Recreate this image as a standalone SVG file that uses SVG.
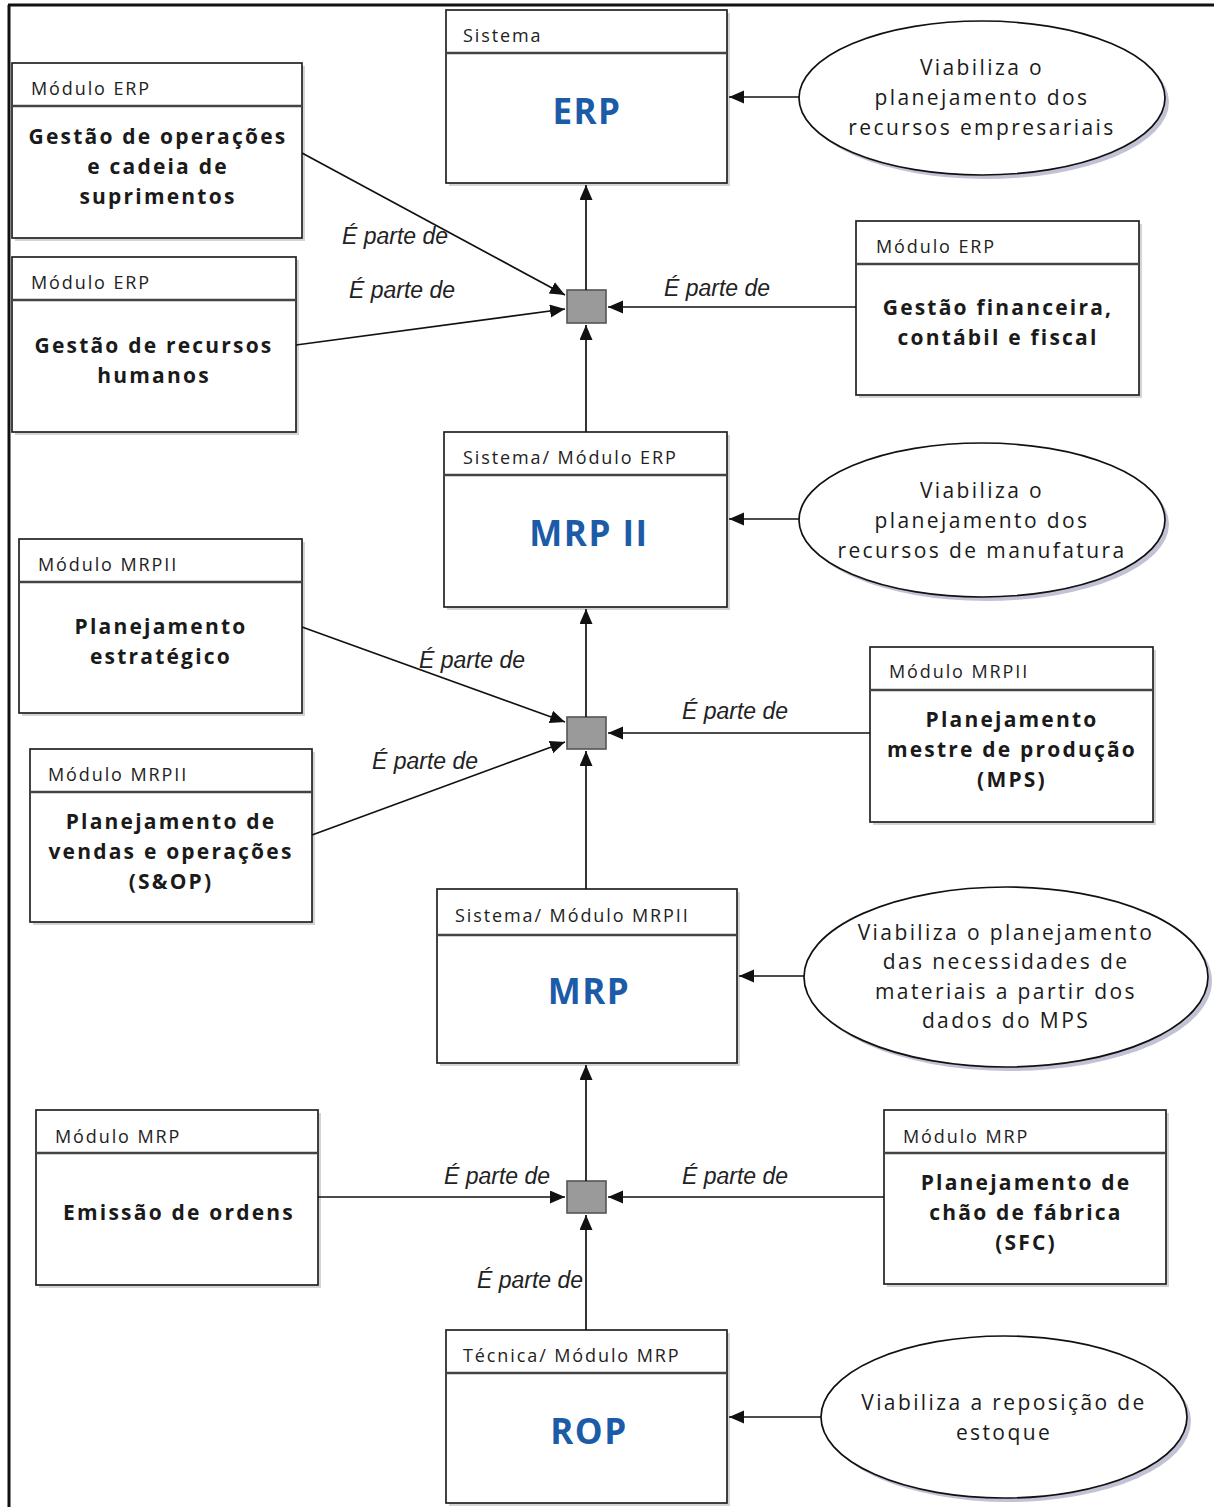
<svg xmlns="http://www.w3.org/2000/svg" width="1214" height="1507" viewBox="0 0 1214 1507">
  <defs>
    <marker id="arr" markerUnits="userSpaceOnUse" markerWidth="16" markerHeight="14" refX="15" refY="6.5" orient="auto">
      <path d="M0,0 L15,6.5 L0,13 z" fill="#111"/>
    </marker>
    <style>
      .box { fill: #fff; stroke: #222; stroke-width: 1.7; }
      .shadow { fill: #d4d4d4; }
      .div { stroke: #444; stroke-width: 2.4; }
      .hdr { font-family: "Open Sans", "Liberation Sans", sans-serif; font-size: 18px; fill: #222; letter-spacing: 1.9px; }
      .body { font-family: "Open Sans", "Liberation Sans", sans-serif; font-weight: bold; font-size: 21px; fill: #1a1a1a; letter-spacing: 2.2px; text-anchor: middle; }
      .big { font-family: "Open Sans", "Liberation Sans", sans-serif; font-weight: bold; font-size: 35px; fill: #1c5ba8; letter-spacing: 1.5px; text-anchor: middle; }
      .ell { fill: #fff; stroke: #111; stroke-width: 1.7; }
      .ell-shadow { fill: #c2c2d6; }
      .etxt { font-family: "Open Sans", "Liberation Sans", sans-serif; font-size: 21px; fill: #1a1a1a; letter-spacing: 2.4px; text-anchor: middle; }
      .lbl { font-family: "Liberation Sans", Arial, sans-serif; font-style: italic; font-size: 23px; fill: #222; }
      .conn { stroke: #111; stroke-width: 1.7; fill: none; marker-end: url(#arr); }
      .junc { fill: #9a9a9a; stroke: #555; stroke-width: 1.6; }
      .frame { stroke: #111; stroke-width: 3; }
    </style>
  </defs>

  <rect width="1214" height="1507" fill="#fff"/>

  <!-- page frame -->
  <g id="frame">
    <line class="frame" x1="8" y1="5" x2="1214" y2="5"/>
    <line class="frame" x1="9" y1="5" x2="9" y2="1507"/>
  </g>

  <!-- ERP system -->
  <g id="n-erp">
    <rect class="shadow" x="449" y="13" width="281" height="173"/>
    <rect class="box" x="446" y="10" width="281" height="173"/>
    <line class="div" x1="446" y1="53" x2="727" y2="53"/>
    <text class="hdr" x="463" y="42">Sistema</text>
    <text class="big" x="587" y="124">ERP</text>
  </g>

  <g id="n-ops">
    <rect class="shadow" x="15" y="66" width="290" height="175"/>
    <rect class="box" x="12" y="63" width="290" height="175"/>
    <line class="div" x1="12" y1="106" x2="302" y2="106"/>
    <text class="hdr" x="31" y="95">Módulo ERP</text>
    <text class="body" x="158" y="144">Gestão de operações</text>
    <text class="body" x="158" y="174">e cadeia de</text>
    <text class="body" x="158" y="204">suprimentos</text>
  </g>

  <g id="n-rh">
    <rect class="shadow" x="15" y="260" width="284" height="175"/>
    <rect class="box" x="12" y="257" width="284" height="175"/>
    <line class="div" x1="12" y1="300" x2="296" y2="300"/>
    <text class="hdr" x="31" y="289">Módulo ERP</text>
    <text class="body" x="154" y="353">Gestão de recursos</text>
    <text class="body" x="154" y="383">humanos</text>
  </g>

  <g id="n-fin">
    <rect class="shadow" x="859" y="224" width="283" height="174"/>
    <rect class="box" x="856" y="221" width="283" height="174"/>
    <line class="div" x1="856" y1="264" x2="1139" y2="264"/>
    <text class="hdr" x="876" y="253">Módulo ERP</text>
    <text class="body" x="998" y="315">Gestão financeira,</text>
    <text class="body" x="998" y="345">contábil e fiscal</text>
  </g>

  <g id="e-erp">
    <ellipse class="ell-shadow" cx="986" cy="102" rx="183" ry="77"/>
    <ellipse class="ell" cx="982" cy="98" rx="183" ry="77"/>
    <text class="etxt" x="982" y="75">Viabiliza o</text>
    <text class="etxt" x="982" y="105">planejamento dos</text>
    <text class="etxt" x="982" y="135">recursos empresariais</text>
  </g>

  <!-- MRP II -->
  <g id="n-mrp2">
    <rect class="shadow" x="447" y="435" width="283" height="175"/>
    <rect class="box" x="444" y="432" width="283" height="175"/>
    <line class="div" x1="444" y1="475" x2="727" y2="475"/>
    <text class="hdr" x="463" y="464">Sistema/ Módulo ERP</text>
    <text class="big" x="589" y="546">MRP II</text>
  </g>

  <g id="e-mrp2">
    <ellipse class="ell-shadow" cx="986" cy="524" rx="183" ry="77"/>
    <ellipse class="ell" cx="982" cy="520" rx="183" ry="77"/>
    <text class="etxt" x="982" y="498">Viabiliza o</text>
    <text class="etxt" x="982" y="528">planejamento dos</text>
    <text class="etxt" x="982" y="558">recursos de manufatura</text>
  </g>

  <g id="n-pe">
    <rect class="shadow" x="22" y="542" width="283" height="174"/>
    <rect class="box" x="19" y="539" width="283" height="174"/>
    <line class="div" x1="19" y1="582" x2="302" y2="582"/>
    <text class="hdr" x="38" y="571">Módulo MRPII</text>
    <text class="body" x="161" y="634">Planejamento</text>
    <text class="body" x="161" y="664">estratégico</text>
  </g>

  <g id="n-sop">
    <rect class="shadow" x="33" y="752" width="282" height="173"/>
    <rect class="box" x="30" y="749" width="282" height="173"/>
    <line class="div" x1="30" y1="792" x2="312" y2="792"/>
    <text class="hdr" x="48" y="781">Módulo MRPII</text>
    <text class="body" x="171" y="829">Planejamento de</text>
    <text class="body" x="171" y="859">vendas e operações</text>
    <text class="body" x="171" y="889">(S&amp;OP)</text>
  </g>

  <g id="n-mps">
    <rect class="shadow" x="873" y="650" width="283" height="175"/>
    <rect class="box" x="870" y="647" width="283" height="175"/>
    <line class="div" x1="870" y1="690" x2="1153" y2="690"/>
    <text class="hdr" x="889" y="678">Módulo MRPII</text>
    <text class="body" x="1012" y="727">Planejamento</text>
    <text class="body" x="1012" y="757">mestre de produção</text>
    <text class="body" x="1012" y="787">(MPS)</text>
  </g>

  <!-- MRP -->
  <g id="n-mrp">
    <rect class="shadow" x="440" y="892" width="300" height="174"/>
    <rect class="box" x="437" y="889" width="300" height="174"/>
    <line class="div" x1="437" y1="935" x2="737" y2="935"/>
    <text class="hdr" x="455" y="922">Sistema/ Módulo MRPII</text>
    <text class="big" x="589" y="1004">MRP</text>
  </g>

  <g id="e-mrp">
    <ellipse class="ell-shadow" cx="1010" cy="981" rx="202" ry="90"/>
    <ellipse class="ell" cx="1006" cy="977" rx="202" ry="90"/>
    <text class="etxt" x="1006" y="940">Viabiliza o planejamento</text>
    <text class="etxt" x="1006" y="969">das necessidades de</text>
    <text class="etxt" x="1006" y="999">materiais a partir dos</text>
    <text class="etxt" x="1006" y="1028">dados do MPS</text>
  </g>

  <g id="n-ord">
    <rect class="shadow" x="39" y="1113" width="282" height="175"/>
    <rect class="box" x="36" y="1110" width="282" height="175"/>
    <line class="div" x1="36" y1="1153" x2="318" y2="1153"/>
    <text class="hdr" x="55" y="1143">Módulo MRP</text>
    <text class="body" x="179" y="1220">Emissão de ordens</text>
  </g>

  <g id="n-sfc">
    <rect class="shadow" x="887" y="1113" width="282" height="174"/>
    <rect class="box" x="884" y="1110" width="282" height="174"/>
    <line class="div" x1="884" y1="1153" x2="1166" y2="1153"/>
    <text class="hdr" x="903" y="1143">Módulo MRP</text>
    <text class="body" x="1026" y="1190">Planejamento de</text>
    <text class="body" x="1026" y="1220">chão de fábrica</text>
    <text class="body" x="1026" y="1250">(SFC)</text>
  </g>

  <!-- ROP -->
  <g id="n-rop">
    <rect class="shadow" x="449" y="1333" width="281" height="173"/>
    <rect class="box" x="446" y="1330" width="281" height="173"/>
    <line class="div" x1="446" y1="1373" x2="727" y2="1373"/>
    <text class="hdr" x="463" y="1362">Técnica/ Módulo MRP</text>
    <text class="big" x="589" y="1444">ROP</text>
  </g>

  <g id="e-rop">
    <ellipse class="ell-shadow" cx="1008" cy="1421" rx="183" ry="81"/>
    <ellipse class="ell" cx="1004" cy="1417" rx="183" ry="81"/>
    <text class="etxt" x="1004" y="1410">Viabiliza a  reposição de</text>
    <text class="etxt" x="1004" y="1440">estoque</text>
  </g>

  <!-- junction points -->
  <g id="j1"><rect class="junc" x="567" y="290" width="39" height="33"/></g>
  <g id="j2"><rect class="junc" x="567" y="717" width="39" height="32"/></g>
  <g id="j3"><rect class="junc" x="567" y="1181" width="39" height="32"/></g>

  <!-- connectors -->
  <g id="connectors">
    <line class="conn" x1="799" y1="97" x2="729" y2="97"/>
    <line class="conn" x1="586" y1="290" x2="586" y2="185"/>
    <line class="conn" x1="302" y1="153" x2="565" y2="295"/>
    <line class="conn" x1="296" y1="345" x2="565" y2="309"/>
    <line class="conn" x1="856" y1="307" x2="608" y2="307"/>
    <line class="conn" x1="586" y1="432" x2="586" y2="325"/>

    <line class="conn" x1="799" y1="519" x2="729" y2="519"/>
    <line class="conn" x1="586" y1="717" x2="586" y2="609"/>
    <line class="conn" x1="302" y1="627" x2="565" y2="722"/>
    <line class="conn" x1="312" y1="835" x2="565" y2="742"/>
    <line class="conn" x1="870" y1="733" x2="608" y2="733"/>
    <line class="conn" x1="586" y1="889" x2="586" y2="751"/>

    <line class="conn" x1="804" y1="976" x2="739" y2="976"/>
    <line class="conn" x1="586" y1="1181" x2="586" y2="1065"/>
    <line class="conn" x1="318" y1="1197" x2="565" y2="1197"/>
    <line class="conn" x1="884" y1="1197" x2="608" y2="1197"/>
    <line class="conn" x1="586" y1="1330" x2="586" y2="1215"/>

    <line class="conn" x1="821" y1="1417" x2="729" y2="1417"/>

    <text class="lbl" x="342" y="244">É parte de</text>
    <text class="lbl" x="349" y="298">É parte de</text>
    <text class="lbl" x="664" y="296">É parte de</text>
    <text class="lbl" x="419" y="668">É parte de</text>
    <text class="lbl" x="372" y="769">É parte de</text>
    <text class="lbl" x="682" y="719">É parte de</text>
    <text class="lbl" x="444" y="1184">É parte de</text>
    <text class="lbl" x="682" y="1184">É parte de</text>
    <text class="lbl" x="477" y="1288">É parte de</text>
  </g>
</svg>
